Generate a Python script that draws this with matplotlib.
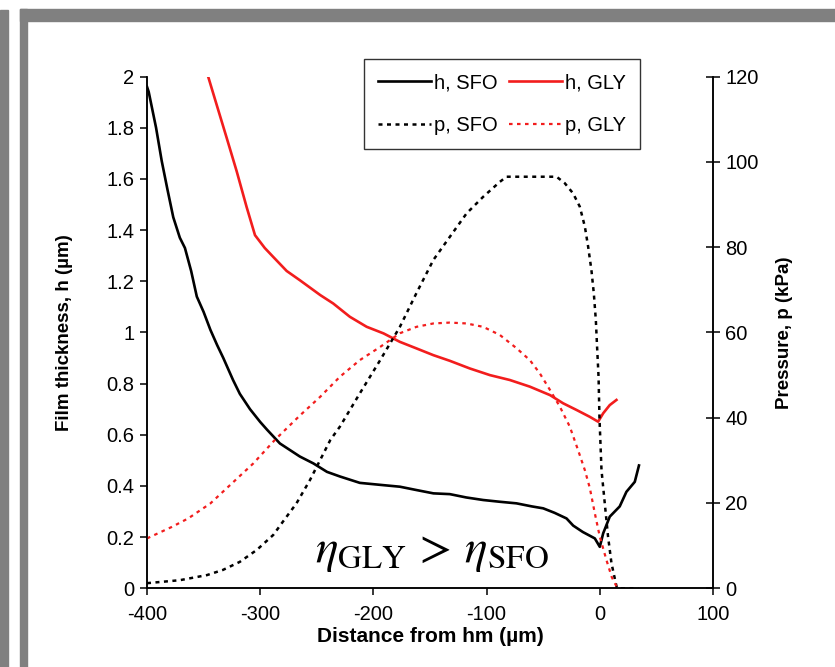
import matplotlib
matplotlib.use("Agg")
import matplotlib.pyplot as plt
from matplotlib.patches import Rectangle
from matplotlib.ticker import FuncFormatter

plt.rcParams['font.family'] = ['Liberation Sans', 'DejaVu Sans']
plt.rcParams['axes.unicode_minus'] = False
plt.rcParams['mathtext.fontset'] = 'stix'

# film thickness h (um) vs distance from hm (um)
x_h_sfo = [-400, -398.5, -392, -387, -382, -376.8, -371, -366.5, -361, -356, -350, -344,
           -338, -332.6, -324, -318, -309, -300, -294, -282.6, -265, -253, -241, -229.6,
           -212, -191, -176.6, -162, -147, -132.5, -118, -103, -88, -73.6, -60, -50, -40,
           -29.4, -23.5, -15, -4.4, 0, 3, 8.8, 17.6, 23.5, 30.9, 34.6]
h_sfo = [1.96, 1.94, 1.80, 1.67, 1.56, 1.45, 1.37, 1.33, 1.24, 1.14, 1.08, 1.01,
         0.95, 0.90, 0.814, 0.76, 0.70, 0.65, 0.62, 0.566, 0.515, 0.488, 0.455, 0.437,
         0.412, 0.403, 0.397, 0.384, 0.371, 0.368, 0.355, 0.345, 0.338, 0.332, 0.32, 0.3125, 0.295,
         0.273, 0.245, 0.22, 0.195, 0.162, 0.215, 0.28, 0.32, 0.377, 0.416, 0.48]

x_h_gly = [-346, -338.5, -329.6, -320.8, -312, -304.6, -296, -288.5, -276.6, -265, -247,
           -235.5, -220.8, -206, -191, -176.6, -162, -147, -132.5, -114.8, -97, -79.5,
           -61.8, -44, -32.4, -20.6, -8.8, -1.5, 3, 8.8, 14.7]
h_gly = [2.0, 1.89, 1.76, 1.63, 1.49, 1.38, 1.33, 1.295, 1.24, 1.204, 1.146,
         1.113, 1.061, 1.022, 0.996, 0.963, 0.9375, 0.911, 0.889, 0.859, 0.833, 0.814,
         0.788, 0.755, 0.723, 0.697, 0.67, 0.651, 0.684, 0.716, 0.736]

# pressure p (kPa)
x_p_sfo = [-400, -371, -347, -333, -318, -303, -288.5, -280, -268, -256, -247, -238,
           -229.6, -212, -194, -176.6, -162, -147, -132.5, -117.7, -103, -88.3, -82.4,
           -38.2, -31, -23.6, -17.7, -13.2, -10.3, -7.4, -5.3, -3.5, -2.4, -1.1, -0.3,
           1.5, 4.4, 7.3, 10.3, 14.7, 16, 34]
p_sfo = [1.2, 1.9, 3.1, 4.3, 6.2, 9.0, 12.5, 15.6, 19.9, 25.4, 30.1, 34.8,
         37.9, 45.7, 53.5, 61.3, 69.2, 77, 82.4, 87.9, 91.8, 95.3, 96.5,
         96.5, 95, 92.6, 89.5, 84.8, 80.1, 74.6, 69.2, 62.9, 56.6, 49.6, 40,
         27.7, 19.9, 12.1, 5.9, 0.5, 0, 0]

x_p_gly = [-400, -378, -363.5, -344, -325, -306, -287, -265, -247, -229.6, -212, -194,
           -176.6, -162, -147, -132.5, -117.7, -103, -88.3, -73.6, -61.8, -53, -44,
           -35.3, -26.5, -19.2, -13.2, -8.8, -4.4, 0, 5.9, 10.6, 14.7]
p_gly = [11.7, 14.4, 16.4, 19.9, 24.6, 29.3, 34.8, 40.5, 44.9, 49.6, 53.5, 56.6,
         59.8, 61.3, 62.1, 62.3, 62.1, 61.3, 59.4, 56.3, 53.5, 50.4, 46.5,
         42.6, 37.9, 32.4, 27.7, 23.5, 17.6, 12.1, 6.6, 2.6, 0.5]

x_ticks = [-400, -300, -200, -100, 0, 100]
h_ticks = [0, 0.2, 0.4, 0.6, 0.8, 1, 1.2, 1.4, 1.6, 1.8, 2]
p_ticks = [0, 20, 40, 60, 80, 100, 120]

red = '#f21d1d'

fig = plt.figure(figsize=(8.35, 6.67), dpi=100)

# grey frame of the slide around the chart
grey = '#808080'
fig.patches.append(Rectangle((0, 0), 8 / 835, 1 - 10 / 667, transform=fig.transFigure,
                             color=grey, zorder=-5))
fig.patches.append(Rectangle((20 / 835, 0), 7 / 835, 1 - 9 / 667, transform=fig.transFigure,
                             color=grey, zorder=-5))
fig.patches.append(Rectangle((20 / 835, 1 - 21 / 667), 1, 12 / 667, transform=fig.transFigure,
                             color=grey, zorder=-5))

ax = fig.add_axes([147 / 835, 1 - 588.3 / 667, (713 - 147) / 835, (588.3 - 76.5) / 667])
ax2 = ax.twinx()

l1, = ax.plot(x_h_sfo, h_sfo, color='black', lw=1.9, label='h, SFO')
l2, = ax.plot(x_h_gly, h_gly, color=red, lw=1.9, label='h, GLY')
l3, = ax2.plot(x_p_sfo, p_sfo, color='black', lw=1.8, linestyle=(0, (1.6, 1.8)), label='p, SFO')
l4, = ax2.plot(x_p_gly, p_gly, color=red, lw=1.6, linestyle=(0, (1.6, 2.0)), label='p, GLY')

ax.set_xlim(-400, 100)
ax.set_ylim(0, 2)
ax2.set_ylim(0, 120)
ax.set_xticks(x_ticks)
ax.set_yticks(h_ticks)
ax2.set_yticks(p_ticks)
ax.yaxis.set_major_formatter(FuncFormatter(lambda v, _: '%g' % v))

for a in (ax, ax2):
    a.spines['top'].set_visible(False)
    for s in a.spines.values():
        s.set_linewidth(1.1)
ax.tick_params(axis='y', direction='out', length=5, width=1.1, labelsize=14.5, pad=4)
ax.tick_params(axis='x', direction='out', length=5, width=1.1, labelsize=14.5, pad=7)
ax2.tick_params(axis='y', direction='inout', length=10, width=1.1, labelsize=14.5, pad=4)

ax.set_xlabel('Distance from hm (µm)', fontsize=15, fontweight='bold', labelpad=2)
ax.set_ylabel('Film thickness, h (µm)', fontsize=13.5, fontweight='bold', labelpad=24)
ax2.set_ylabel('Pressure, p (kPa)', fontsize=13.5, fontweight='bold', labelpad=12)

ax.text(-148, 0.14, r'$\eta_{\mathrm{GLY}}\,>\,\eta_{\mathrm{SFO}}$', fontsize=34,
        ha='center', va='center')

leg = fig.legend(handles=[l1, l3, l2, l4], ncol=2, loc='upper center',
                 bbox_to_anchor=(502 / 835, 1 - 59 / 667), fontsize=14.5,
                 frameon=True, fancybox=False, edgecolor='black', borderaxespad=0,
                 handlelength=2.6, handletextpad=0.15, columnspacing=0.6,
                 labelspacing=1.2, borderpad=0.7)
leg.get_frame().set_linewidth(1.0)

fig.savefig('out.png', dpi=100)
